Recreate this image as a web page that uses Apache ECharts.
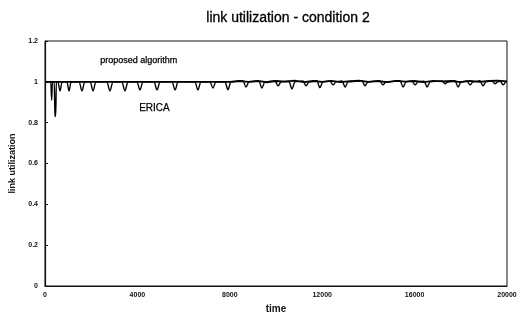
<!DOCTYPE html>
<html>
<head>
<meta charset="utf-8">
<script src="https://cdn.jsdelivr.net/npm/echarts@6/dist/echarts.min.js"></script>
<style>
  html, body { margin: 0; padding: 0; background: #fff; }
  #chart { width: 521px; height: 320px; }
</style>
</head>
<body>
<div id="chart"></div>
<script>
// values
const xTicks = [0, 4000, 8000, 12000, 16000, 20000];
const yTicks = [0, 0.2, 0.4, 0.6, 0.8, 1, 1.2];

const ericaTime = [
  0, 250, 290, 320, 400, 430, 465, 490, 560, 650, 740, 950, 1040, 1130,
  1480, 1600, 1720, 1960, 2080, 2200, 2680, 2810, 2940, 3330, 3460, 3590,
  3980, 4110, 4240, 4720, 4850, 4980, 5500, 5630, 5760, 6490, 6620, 6750,
  7140, 7270, 7400, 7790, 7920, 8050, 8570, 8700, 8830, 9260, 9390, 9520,
  9960, 10090, 10220, 10560, 10690, 10820, 11170, 11300, 11430, 11770, 11900, 12030,
  12340, 12470, 12600, 12860, 12990, 13120, 13720, 13850, 13980, 14500, 14630, 14760,
  15370, 15500, 15630, 15890, 16020, 16150, 16410, 16540, 16670, 17190, 17320, 17450,
  17750, 17880, 18010, 18270, 18400, 18530, 18830, 18960, 19090, 19350, 19480, 19610,
  19700, 19830, 19960, 20000
];
const ericaUtil = [
  1.0, 1.0, 0.91, 1.0, 1.0, 0.83, 0.835, 1.0, 1.0, 0.955, 1.0, 1.0, 0.955, 1.0,
  1.0, 0.955, 1.0, 1.0, 0.955, 1.0, 1.0, 0.955, 1.0, 1.0, 0.955, 1.0,
  1.0, 0.96, 1.0, 1.0, 0.96, 1.0, 1.0, 0.96, 1.0, 1.0, 0.96, 1.0,
  1.0, 0.97, 1.0, 1.0, 0.962, 1.0, 1.005, 0.975, 1.0, 1.003, 0.97, 1.0,
  1.004, 0.98, 1.0, 1.003, 0.965, 1.0, 1.004, 0.98, 1.0, 1.005, 0.972, 1.0,
  1.004, 0.985, 1.0, 1.004, 0.975, 1.0, 1.005, 0.98, 1.0, 1.004, 0.985, 1.0,
  1.005, 0.975, 1.0, 1.004, 0.985, 1.0, 1.003, 0.975, 1.0, 1.004, 0.99, 1.0,
  1.005, 0.975, 1.0, 1.004, 0.985, 1.0, 1.005, 0.98, 1.0, 1.004, 0.99, 1.0,
  1.005, 0.985, 1.0, 1.0
];

const proposedTime = [
  0, 2000, 4000, 6000, 8000, 8400, 8800, 9200, 9600, 10000, 10400, 10800,
  11200, 11600, 12000, 12400, 12800, 13200, 13600, 14000, 14400, 14800, 15200,
  15600, 16000, 16400, 16800, 17200, 17600, 18000, 18400, 18800, 19200, 19600, 20000
];
const proposedUtil = [
  1.0, 1.0, 1.0, 1.0, 1.0, 1.004, 1.0, 1.005, 0.998, 1.004, 1.001, 1.006,
  0.999, 1.004, 1.0, 1.005, 0.999, 1.003, 1.006, 1.0, 1.004, 0.999, 1.005,
  1.001, 1.004, 0.999, 1.005, 1.002, 1.004, 0.999, 1.005, 1.0, 1.004, 1.006, 1.002
];

const zip = (xs, ys) => xs.map((x, i) => [x, ys[i]]);

const font = '"Liberation Sans", Arial, sans-serif';
const chart = echarts.init(document.getElementById('chart'));

chart.setOption({
  animation: false,
  title: {
    text: 'link utilization - condition 2',
    left: 283, top: 6, textAlign: 'center',
    textStyle: { fontFamily: font, fontSize: 14, fontWeight: 'normal', color: '#000', textBorderColor: '#000', textBorderWidth: 0.3 }
  },
  grid: {
    left: 45, right: 14, top: 41, bottom: 34,
    show: true, borderColor: '#111', borderWidth: 1, backgroundColor: 'transparent'
  },
  xAxis: {
    type: 'value', min: 0, max: 20000, interval: 4000,
    name: 'time', nameLocation: 'middle', nameGap: 16,
    nameTextStyle: { fontFamily: font, fontSize: 10, fontWeight: 'bold', color: '#111' },
    axisLine: { lineStyle: { color: '#111', width: 1.2 } },
    axisTick: { show: false },
    axisLabel: {
      fontFamily: font, fontSize: 7, fontWeight: 'bold', color: '#111', margin: 6,
      customValues: xTicks,
      formatter: v => String(v)
    },
    splitLine: { show: false }
  },
  yAxis: {
    type: 'value', min: 0, max: 1.2, interval: 0.2,
    name: 'link utilization', nameLocation: 'middle', nameGap: 26,
    nameTextStyle: { fontFamily: font, fontSize: 9, fontWeight: 'bold', color: '#111' },
    axisLine: { show: true, lineStyle: { color: '#111', width: 1.2 } },
    axisTick: { show: true, inside: true, length: 3, lineStyle: { color: '#111' } },
    axisLabel: {
      fontFamily: font, fontSize: 7, fontWeight: 'bold', color: '#111', margin: 7,
      customValues: yTicks,
      formatter: v => String(Math.round(v * 10) / 10)
    },
    splitLine: { show: false }
  },
  graphic: [
    { type: 'text', left: 100, top: 56,
      style: { text: 'proposed algorithm', font: '9px ' + font, fill: '#000', stroke: '#000', lineWidth: 0.25 } },
    { type: 'text', left: 139, top: 103,
      style: { text: 'ERICA', font: '10px ' + font, fill: '#000', stroke: '#000', lineWidth: 0.25 } }
  ],
  series: [
    {
      name: 'proposed algorithm', type: 'line', showSymbol: false,
      data: zip(proposedTime, proposedUtil),
      lineStyle: { color: '#000', width: 1.8 }
    },
    {
      name: 'ERICA', type: 'line', showSymbol: false,
      smooth: 0.35, smoothMonotone: 'x',
      data: zip(ericaTime, ericaUtil),
      lineStyle: { color: '#000', width: 1.4 }
    }
  ]
});
</script>
</body>
</html>
